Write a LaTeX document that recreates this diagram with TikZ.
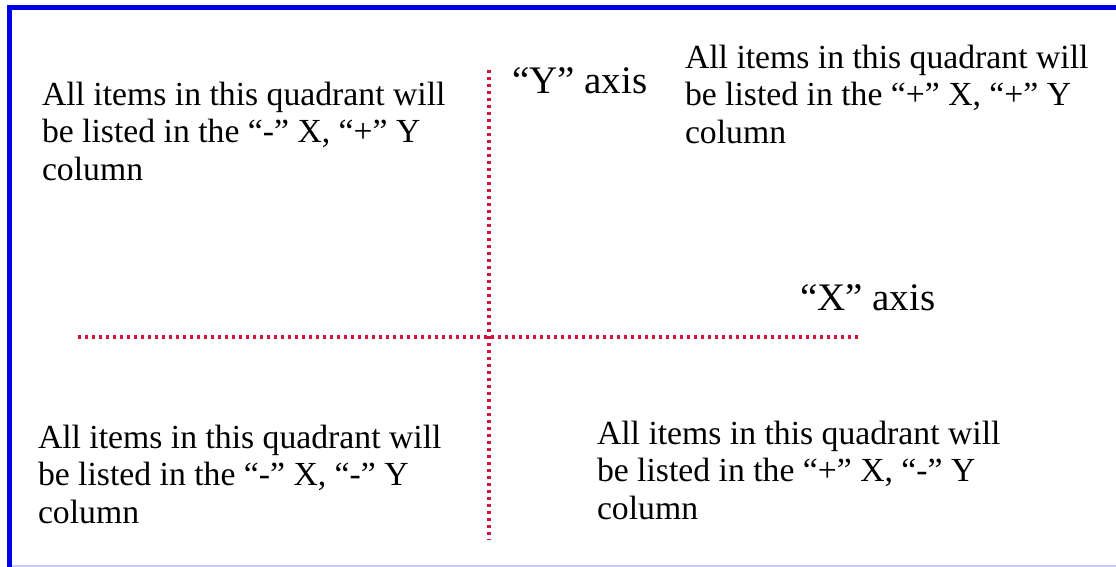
\documentclass[tikz,border=0pt]{standalone}
\usepackage{fontspec}
\setmainfont{Liberation Serif}
\definecolor{framebl}{RGB}{0,0,230}
\definecolor{framepale}{RGB}{200,200,255}
\definecolor{dotred}{RGB}{210,20,60}
\begin{document}
\begin{tikzpicture}[x=1pt, y=-1pt, every node/.style={inner sep=0pt, outer sep=0pt, text=black}, quadtext/.style={anchor=north west, align=left, font=\fontsize{33.7}{37.5}\selectfont}, axislabel/.style={anchor=base west, font=\fontsize{39}{45}\selectfont}, axisline/.style={dotred, line width=3.2pt, dash pattern=on 3pt off 4pt}]
			\useasboundingbox (0,0) rectangle (1116,567);
			\fill[white] (0,0) rectangle (1116,567);
			% frame
			\draw[framebl, line width=5pt] (1116,7.5) -- (9.5,7.5) -- (9.5,567);
			\draw[framepale, line width=2pt] (12,565.5) -- (1116,565.5);
			% axes
			\coordinate (ytop) at (489,70);
			\coordinate (ybot) at (489,540);
			\coordinate (xleft) at (78,337);
			\coordinate (xright) at (858,337);
			\draw[axisline] (ytop) -- (ybot);
			\draw[axisline] (xleft) -- (xright);
			\node[axislabel] (ylabel) at (512,94) {“Y” axis};
			\node[axislabel] (xlabel) at (800,310) {“X” axis};
			% quadrants
			\node[quadtext] (tl) at (42,82) {All items in this quadrant will\\be listed in the “-” X, “+” Y\\column};
			\node[quadtext] (tr) at (685,45) {All items in this quadrant will\\be listed in the “+” X, “+” Y\\column};
			\node[quadtext] (bl) at (38,425) {All items in this quadrant will\\be listed in the “-” X, “-” Y\\column};
			\node[quadtext] (br) at (597,421) {All items in this quadrant will\\be listed in the “+” X, “-” Y\\column};
		\end{tikzpicture}
\end{document}
